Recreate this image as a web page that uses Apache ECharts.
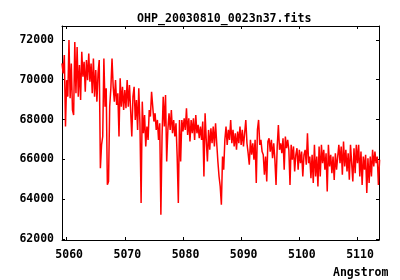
<!DOCTYPE html>
<html>
<head>
<meta charset="utf-8">
<script src="https://cdn.jsdelivr.net/npm/echarts@6/dist/echarts.min.js"></script>
<style>html,body{margin:0;padding:0;background:#fff}#c{width:400px;height:280px}</style>
</head>
<body>
<div id="c"></div>
<script>
// Spectrum: wavelength calibration (start, step in Angstrom)
var lambdaStart = 5059.2;
var lambdaStep = 0.2;
// Flux values
var flux = [
70820,70320,71240,67650,69980,69150,71990,69070,70820,68480,
68230,71900,69320,71650,69150,70740,68980,71400,70150,70900,
69400,70990,69980,71320,69900,70820,69320,71070,69150,70490,
68900,70320,70990,65560,66730,67150,71070,68650,69570,64720,
64890,68650,69570,71070,69650,68900,69980,68730,69320,67150,
70070,68650,69650,68480,69480,68570,
69980,68650,69730,68480,67150,69150,69650,67980,68980,67480,
69570,67810,63810,68900,67310,68230,66650,67650,66980,68480,
68150,69400,68650,67900,68320,67480,67980,66980,67810,63220,
67150,69150,67650,69230,65890,67480,68320,67480,68480,67310,
67980,67150,67810,66140,63810,67980,65890,67980,67400,68060,
67480,68570,67230,68060,66900,
67980,67310,68060,66980,68230,67310,67730,67060,67650,66980,
67900,65140,68320,66980,65890,67480,66480,67560,66810,67650,
66650,67810,66810,65890,65140,64640,63720,66140,65480,66980,
67650,66730,67480,66980,67980,66810,67480,66650,67310,66480,
67400,66810,67650,66730,67480,66650,67310,67980,66810,66310,
65730,66980,66230,66810,65980,
66980,64810,67480,67980,66730,66980,66390,66230,65230,66140,
64890,66900,67060,66390,66980,66060,66810,65980,64720,66650,
67730,66480,66810,66310,67060,65480,67150,66560,66980,66480,
64720,66730,65980,66650,65390,66230,66560,65480,66480,65810,
66390,65140,66230,66480,65730,67310,65810,66140,65060,66230,
64810,66730,65140,66140,64640,
66650,65140,66730,65810,66480,65480,66310,64390,66730,65640,
66230,65310,66140,64970,66310,65480,66140,66730,65810,66650,
65230,66900,65640,66480,65390,66310,64980,66730,65810,64890,
66560,65310,66730,65810,66730,65140,66390,64720,66140,65480,
66230,64310,66060,64810,66140,65140,66480,65640,66390,65810,
66140,64720,65980
];
var xTicks = [5060,5070,5080,5090,5100,5110];
var yTicks = [62000,64000,66000,68000,70000,72000];
var titleText = 'OHP_20030810_0023n37.fits';
var xName = 'Angstrom';

var pts = flux.map(function(v,i){ return [lambdaStart + lambdaStep*i, v]; });

var font = 'DejaVu Sans Mono';
var plain = function(v){ return String(Math.round(v)); };
var chart = echarts.init(document.getElementById('c'), null, {renderer:'canvas'});
var axisCommon = {
  axisLine:{show:true, lineStyle:{color:'#000', width:1}},
  splitLine:{show:false}
};
chart.setOption({
  animation:false,
  backgroundColor:'#fff',
  title:[
    {text:titleText, left:132, top:8, textStyle:{fontFamily:font, fontSize:11.6, fontWeight:'bold', color:'#000'}},
    {text:xName, left:328, top:262, textStyle:{fontFamily:font, fontSize:11.5, fontWeight:'bold', color:'#000'}}
  ],
  grid:{left:62, right:21, top:26, bottom:40, containLabel:false},
  xAxis:[
    Object.assign({type:'value', position:'bottom', min:5059.2, max:5113.7,
      axisTick:{show:true, inside:true, length:3, customValues:xTicks, lineStyle:{color:'#000'}},
      axisLabel:{show:true, customValues:xTicks, formatter:plain, margin:9, padding:[0,0,0,5], fontFamily:font, fontSize:11.5, fontWeight:'bold', color:'#000'}
    }, axisCommon),
    Object.assign({type:'value', position:'top', min:5059.2, max:5113.7,
      axisTick:{show:true, inside:true, length:3, customValues:xTicks, lineStyle:{color:'#000'}},
      axisLabel:{show:false}
    }, axisCommon)
  ],
  yAxis:[
    Object.assign({type:'value', position:'left', min:61950, max:72700,
      axisTick:{show:true, inside:true, length:3, customValues:yTicks, lineStyle:{color:'#000'}},
      axisLabel:{show:true, customValues:yTicks, formatter:plain, margin:8, fontFamily:font, fontSize:11.5, fontWeight:'bold', color:'#000'}
    }, axisCommon),
    Object.assign({type:'value', position:'right', min:61950, max:72700,
      axisTick:{show:true, inside:true, length:3, customValues:yTicks, lineStyle:{color:'#000'}},
      axisLabel:{show:false}
    }, axisCommon)
  ],
  series:[{
    type:'line', data:pts, xAxisIndex:0, yAxisIndex:0,
    showSymbol:false, symbol:'none', clip:true,
    lineStyle:{color:'#ff0000', width:1.5}
  }]
});
</script>
</body>
</html>
